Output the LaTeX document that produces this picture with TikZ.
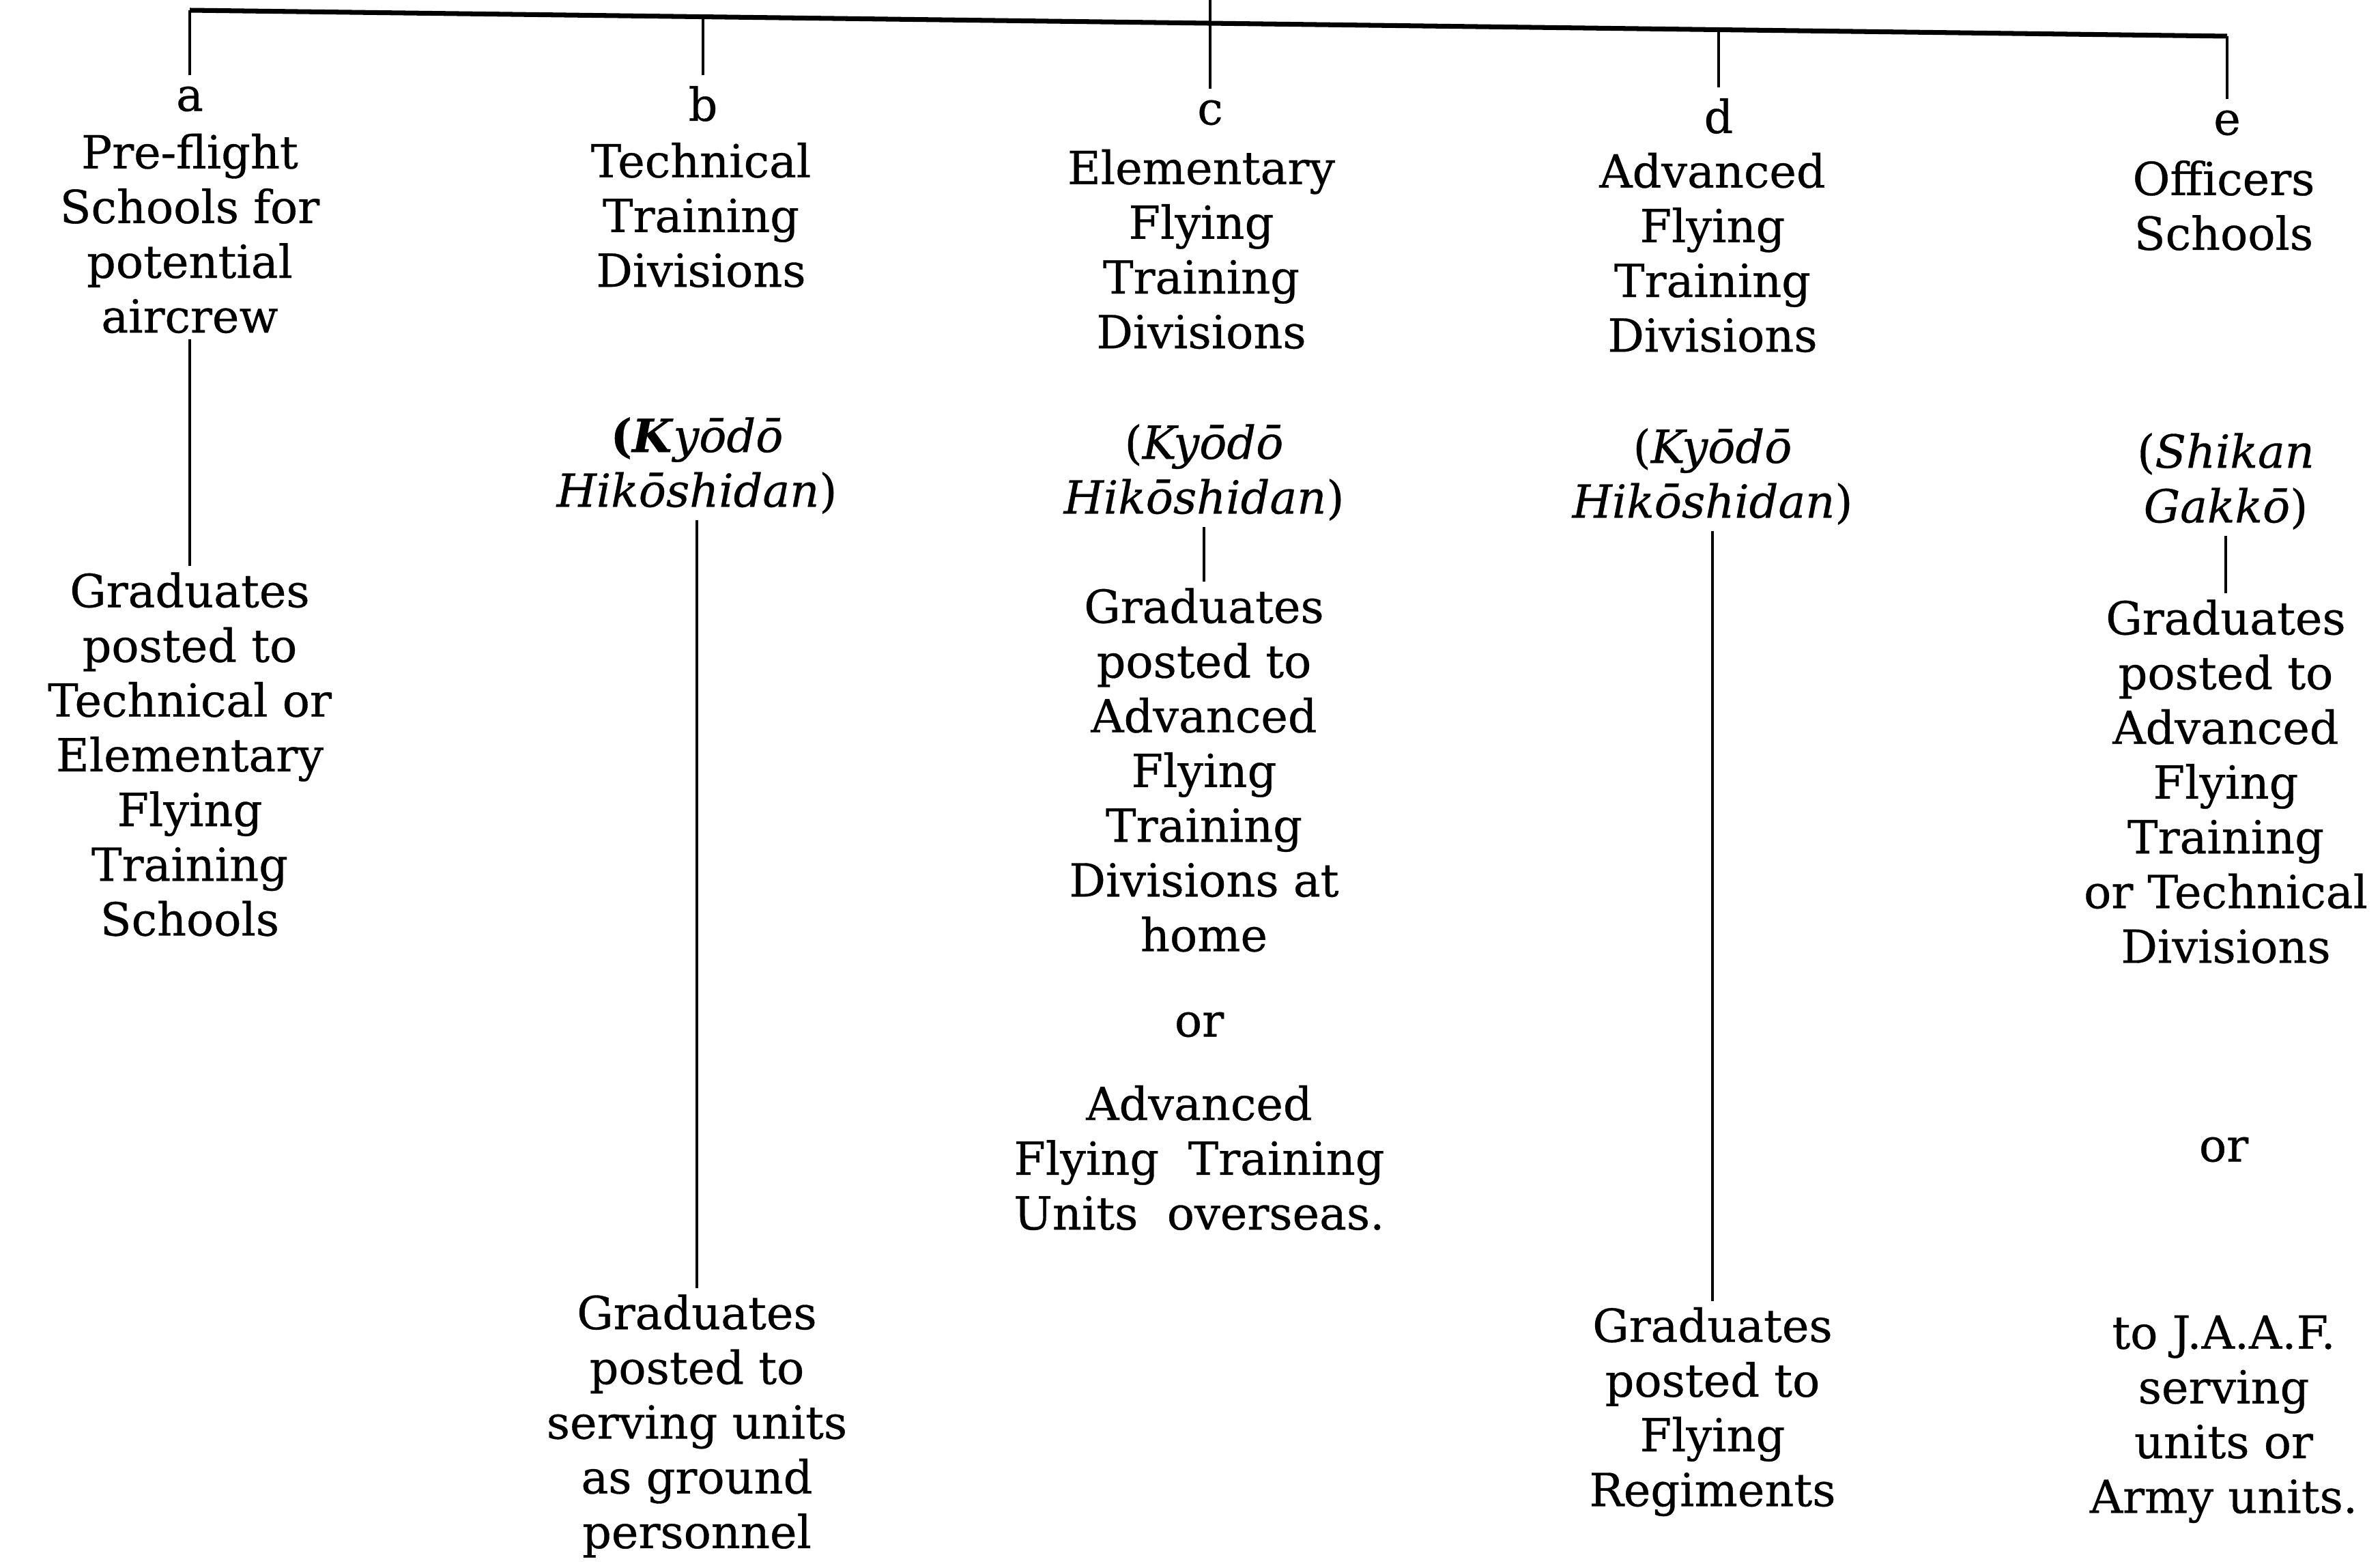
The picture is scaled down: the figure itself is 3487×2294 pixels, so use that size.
\documentclass[tikz,border=0pt]{standalone}
\usepackage{fontspec}
\setmainfont{DejaVu Serif}[FakeBold=0.5]
\usetikzlibrary{positioning}

\begin{document}
\begin{tikzpicture}[x=0.01cm,y=-0.01cm,line width=1.3pt,
                every node/.style={font=\fontsize{19}{22.8}\selectfont},
                box/.style={align=center,inner sep=2pt},
                tag/.style={inner sep=4pt}]
  \useasboundingbox (0,0) rectangle (3487,2294);

  % column letters
  \node[tag] (a) at (278,145) {a};
  \node[tag] (b) at (1030,152) {b};
  \node[tag] (c) at (1773,165) {c};
  \node[tag] (d) at (2518,170) {d};
  \node[tag] (e) at (3263,180) {e};

  % top bar
  \coordinate (bara) at (278,15);
  \coordinate (bare) at (3263,53);
  \coordinate (up) at (1773,0);
  \draw[line width=2pt] (bara) -- (bare);
  \draw (up) -- (c);
  \path (a |- bara) edge (a)
        (b |- 0,25) edge (b)
        (d |- 0,44) edge (d)
        (e |- bare) edge (e);

  % a
  \node[box] (ahead) at (278,342) {Pre-flight\\Schools for\\potential\\aircrew};
  \node[box] (agrad) at (278,1105) {Graduates\\posted to\\Technical or\\Elementary\\Flying\\Training\\Schools};

  % b
  \node[box] (bhead) at (1027,315) {Technical\\Training\\Divisions};
  \node[box] (bjp) at (1021,682) {\textbf{(\textit{K}}\textit{yōdō}\\\textit{Hikōshidan})};
  \node[box] (bgrad) at (1021,2089) {Graduates\\posted to\\serving units\\as ground\\personnel};

  % c
  \node[box] (chead) at (1760,365) {Elementary\\Flying\\Training\\Divisions};
  \node[box] (cjp) at (1764,692) {(\textit{Kyōdō}\\\textit{Hikōshidan})};
  \node[box] (cgrad) at (1764,1128) {Graduates\\posted to\\Advanced\\Flying\\Training\\Divisions at\\home};
  \node[box] (cor) at (1757,1501) {or};
  \node[box] (cover) at (1757,1696) {Advanced\\Flying~ Training\\Units~ overseas.};

  % d
  \node[box] (dhead) at (2509,370) {Advanced\\Flying\\Training\\Divisions};
  \node[box] (djp) at (2509,698) {(\textit{Kyōdō}\\\textit{Hikōshidan})};
  \node[box] (dgrad) at (2509,2068) {Graduates\\posted to\\Flying\\Regiments};

  % e
  \node[box] (ehead) at (3258,301) {Officers\\Schools};
  \node[box] (ejp) at (3261,705) {(\textit{Shikan}\\\textit{Gakkō})};
  \node[box] (egrad) at (3261,1145) {Graduates\\posted to\\Advanced\\Flying\\Training\\or Technical\\Divisions};
  \node[box] (eor) at (3258,1684) {or};
  \node[box] (eunits) at (3258,2079) {to J.A.A.F.\\serving\\units or\\Army units.};

  \path (ahead) edge (agrad)
        (bjp) edge (bgrad)
        (cjp) edge (cgrad)
        (djp) edge (dgrad)
        (ejp) edge (egrad);
\end{tikzpicture}
\end{document}
